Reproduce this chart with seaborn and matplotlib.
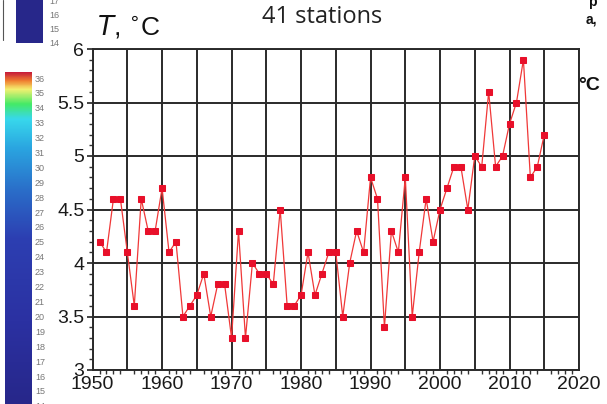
import numpy as np
import pandas as pd
import matplotlib.pyplot as plt
import seaborn as sns
from matplotlib.colors import LinearSegmentedColormap
from matplotlib.ticker import MultipleLocator

# annual mean temperature, 41 stations
years = list(range(1951, 2016))
temps = [4.2, 4.1, 4.6, 4.6, 4.1, 3.6, 4.6, 4.3, 4.3, 4.7,
         4.1, 4.2, 3.5, 3.6, 3.7, 3.9, 3.5, 3.8, 3.8, 3.3,
         4.3, 3.3, 4.0, 3.9, 3.9, 3.8, 4.5, 3.6, 3.6, 3.7,
         4.1, 3.7, 3.9, 4.1, 4.1, 3.5, 4.0, 4.3, 4.1, 4.8,
         4.6, 3.4, 4.3, 4.1, 4.8, 3.5, 4.1, 4.6, 4.2, 4.5,
         4.7, 4.9, 4.9, 4.5, 5.0, 4.9, 5.6, 4.9, 5.0, 5.3,
         5.5, 5.9, 4.8, 4.9, 5.2]
x_labels = [1950, 1960, 1970, 1980, 1990, 2000, 2010, 2020]
y_labels = [3, 3.5, 4, 4.5, 5, 5.5, 6]
cbar_ticks = list(range(14, 37))

df = pd.DataFrame({'year': years, 'T': temps})

sns.set_style("white")
plt.rcParams['font.family'] = ['Liberation Sans', 'DejaVu Sans']

W, H = 607, 404
fig = plt.figure(figsize=(W / 100, H / 100), dpi=100)

def px_axes(x0, y0, x1, y1):
    # axes from pixel box (top-left origin)
    return fig.add_axes([x0 / W, 1 - y1 / H, (x1 - x0) / W, (y1 - y0) / H])

# main plot
ax = px_axes(92.6, 49, 579, 370)
sns.lineplot(data=df, x='year', y='T', ax=ax, color='#f03838', lw=0.9,
             marker='s', markersize=5, markeredgecolor='#e8102a',
             markerfacecolor='#e8102a')
ax.set_xlim(1950, 2020)
ax.set_ylim(3, 6)
ax.xaxis.set_minor_locator(MultipleLocator(1))
ax.yaxis.set_minor_locator(MultipleLocator(0.1))
ax.set_xticks([v for v in range(1950, 2021, 5)])
ax.set_xticklabels([str(v) if v in x_labels else '' for v in range(1950, 2021, 5)])
ax.set_yticks(y_labels)
ax.set_yticklabels(['3', '3.5', '4', '4.5', '5', '5.5', '6'])
ax.grid(True, which='major', color='#2a2a2a', lw=1.4)
ax.set_axisbelow(True)
ax.tick_params(axis='both', which='major', labelsize=14, length=4, width=1.2,
               direction='out', colors='#222222', labelcolor='#1a1a1a', pad=2)
ax.tick_params(axis='both', which='minor', length=3, width=1, direction='out',
               colors='#333333')
ax.tick_params(axis='x', which='major', length=0, pad=4)
ax.tick_params(axis='both', left=True, bottom=True, which='both')
for s in ax.spines.values():
    s.set_color('#2a2a2a')
    s.set_linewidth(1.4)
ax.set_xlabel('')
ax.set_ylabel('')

# colour bars on the left (cropped from neighbouring panel)
cmap = LinearSegmentedColormap.from_list('cb', [
    (0.0, '#27278a'), (0.25, '#2b31a2'), (0.5, '#2d3fb2'),
    (0.64, '#2a6cc8'), (0.77, '#2aa4e0'), (0.86, '#38d8ec'),
    (0.905, '#44ea66'), (0.95, '#f4f070'), (0.975, '#f08030'),
    (1.0, '#c81e3a')])
grad = np.linspace(1, 0, 256).reshape(-1, 1)

cb1 = px_axes(16, 0, 42, 43)
cb1.imshow(np.zeros((2, 1)), aspect='auto', cmap=cmap, vmin=0, vmax=1)
cb1.axis('off')
for i, v in enumerate([17, 16, 15, 14]):
    fig.text(49 / W, 1 - (1 + 14 * i) / H, str(v), fontsize=6.5,
             color='#777777', va='center', ha='left')

cb2 = px_axes(5, 72, 32, 404)
cb2.imshow(grad, aspect='auto', cmap=cmap)
cb2.axis('off')
for i, v in enumerate(reversed(cbar_ticks)):
    fig.text(35 / W, 1 - (79 + 14.9 * i) / H, str(v), fontsize=6.5,
             color='#777777', va='center', ha='left')

fig.add_artist(plt.Line2D([3 / W, 3 / W], [1 - 40 / H, 1], color='#555555', lw=0.8))

# texts
fig.text(97 / W, 1 - 26 / H, r'$T$, $^{\circ}$C', fontsize=19, color='#111111',
         va='center', ha='left')
fig.text(322 / W, 1 - 17 / H, '41 stations', fontsize=17, color='#222222',
         va='center', ha='center', family='Open Sans')
fig.text(588 / W, 1 - 2 / H, 'p', fontsize=10, fontweight='bold', color='#111111',
         va='center', ha='left')
fig.text(586 / W, 1 - 20 / H, 'a,', fontsize=10, fontweight='bold', color='#111111',
         va='center', ha='left')
fig.text(578 / W, 1 - 86 / H, '°C', fontsize=14, fontweight='bold', color='#111111',
         va='center', ha='left')

fig.savefig('out.png', dpi=100)
